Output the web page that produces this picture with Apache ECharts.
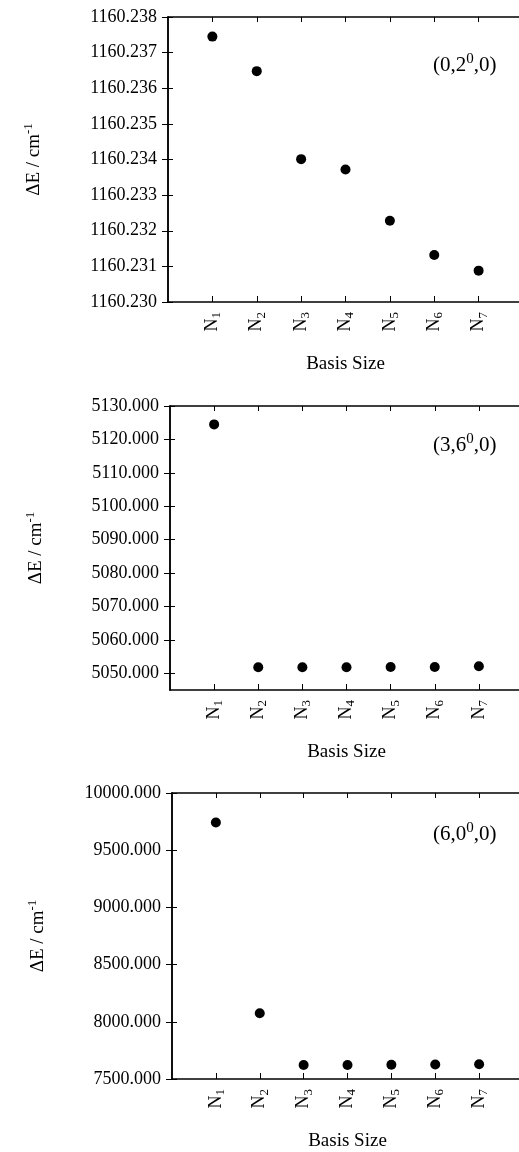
<!DOCTYPE html>
<html>
<head>
<meta charset="utf-8">
<script src="https://cdn.jsdelivr.net/npm/echarts@6/dist/echarts.min.js"></script>
<style>
  html, body { margin: 0; padding: 0; background: #fff; }
  #main { width: 519px; height: 1152px; }
</style>
</head>
<body>
<div id="main"></div>
<script>
  // basis sizes N1..N7, placed at x = 1..7
  var basisIdx = [1, 2, 3, 4, 5, 6, 7];

  var state1 = '(0,2{sup|0},0)';
  var state2 = '(3,6{sup|0},0)';
  var state3 = '(6,0{sup|0},0)';

  var energy1 = [1160.23745, 1160.23648, 1160.23401, 1160.23372, 1160.23228, 1160.23132, 1160.23088];
  var energy2 = [5124.5, 5051.8, 5051.8, 5051.8, 5051.9, 5051.9, 5052.1];
  var energy3 = [9742, 8074, 7623, 7623, 7625, 7626, 7629];

  var ticks1 = [1160.230, 1160.231, 1160.232, 1160.233, 1160.234, 1160.235, 1160.236, 1160.237, 1160.238];
  var ticks2 = [5050, 5060, 5070, 5080, 5090, 5100, 5110, 5120, 5130];
  var ticks3 = [7500, 8000, 8500, 9000, 9500, 10000];

  var font = 'Liberation Serif';

  var panels = [
    { left: 168, top: 17, height: 285, min: 1160.230, max: 1160.238, ticks: ticks1, data: energy1, label: state1, ly: 52 },
    { left: 170, top: 406, height: 284, min: 5045, max: 5130, ticks: ticks2, data: energy2, label: state2, ly: 432 },
    { left: 172, top: 793, height: 286, min: 7500, max: 10000, ticks: ticks3, data: energy3, label: state3, ly: 821 }
  ];

  var chart = echarts.init(document.getElementById('main'));

  var grid = [], xAxis = [], yAxis = [], series = [], title = [];
  var axisLine = { show: true, lineStyle: { color: '#000', width: 1.5 } };
  // customValues ticks ignore "inside", so a negative length points them into the plot
  var tick = function (vals, len) {
    return { show: true, inside: false, length: -len, customValues: vals, lineStyle: { color: '#000' } };
  };

  panels.forEach(function (p, i) {
    grid.push({ left: p.left, top: p.top, width: 523 - p.left, height: p.height, outerBoundsMode: 'none' });

    xAxis.push({
      type: 'value', gridIndex: i, min: 0, max: 8, position: 'bottom',
      name: 'Basis Size', nameLocation: 'middle', nameGap: 53,
      nameTextStyle: { fontFamily: font, fontSize: 19, color: '#000' },
      axisLine: axisLine,
      axisTick: tick(basisIdx, 6),
      axisLabel: {
        customValues: basisIdx, rotate: 90, margin: 10, color: '#000',
        formatter: function (v) { return '{n|N}{s|' + v + '}'; },
        rich: {
          n: { fontFamily: font, fontSize: 18, color: '#000' },
          s: { fontFamily: font, fontSize: 13, color: '#000', padding: [9, 0, 0, 0] }
        }
      },
      splitLine: { show: false }
    });
    xAxis.push({
      type: 'value', gridIndex: i, min: 0, max: 8, position: 'top',
      axisLine: axisLine,
      axisTick: tick(basisIdx, 5),
      axisLabel: { show: false },
      splitLine: { show: false }
    });

    yAxis.push({
      type: 'value', gridIndex: i, min: p.min, max: p.max, position: 'left',
      name: '{a|ΔE / cm}{sup|-1}', nameLocation: 'middle', nameGap: 122,
      nameTextStyle: {
        color: '#000',
        rich: {
          a: { fontFamily: font, fontSize: 19, color: '#000' },
          sup: { fontFamily: font, fontSize: 13, color: '#000', padding: [0, 0, 11, 0] }
        }
      },
      axisLine: axisLine,
      axisTick: tick(p.ticks, 5),
      axisLabel: {
        customValues: p.ticks, margin: 11, color: '#000', fontFamily: font, fontSize: 18,
        formatter: function (v) { return v.toFixed(3); }
      },
      splitLine: { show: false }
    });
    yAxis.push({
      type: 'value', gridIndex: i, min: p.min, max: p.max, position: 'right',
      axisLine: axisLine,
      axisTick: tick(p.ticks, 6),
      axisLabel: { show: false },
      splitLine: { show: false }
    });

    series.push({
      type: 'scatter', xAxisIndex: i * 2, yAxisIndex: i * 2,
      symbol: 'circle', symbolSize: 10,
      itemStyle: { color: '#000', opacity: 1 },
      data: p.data.map(function (v, k) { return [basisIdx[k], v]; })
    });

    title.push({
      text: p.label, left: 433, top: p.ly, padding: 0,
      textStyle: {
        fontFamily: font, fontSize: 21, fontWeight: 'normal', color: '#000',
        rich: {
          sup: { fontFamily: font, fontSize: 15, color: '#000', padding: [0, 0, 12, 0] }
        }
      }
    });
  });

  chart.setOption({
    animation: false,
    backgroundColor: '#fff',
    title: title,
    grid: grid,
    xAxis: xAxis,
    yAxis: yAxis,
    series: series
  });
</script>
</body>
</html>
